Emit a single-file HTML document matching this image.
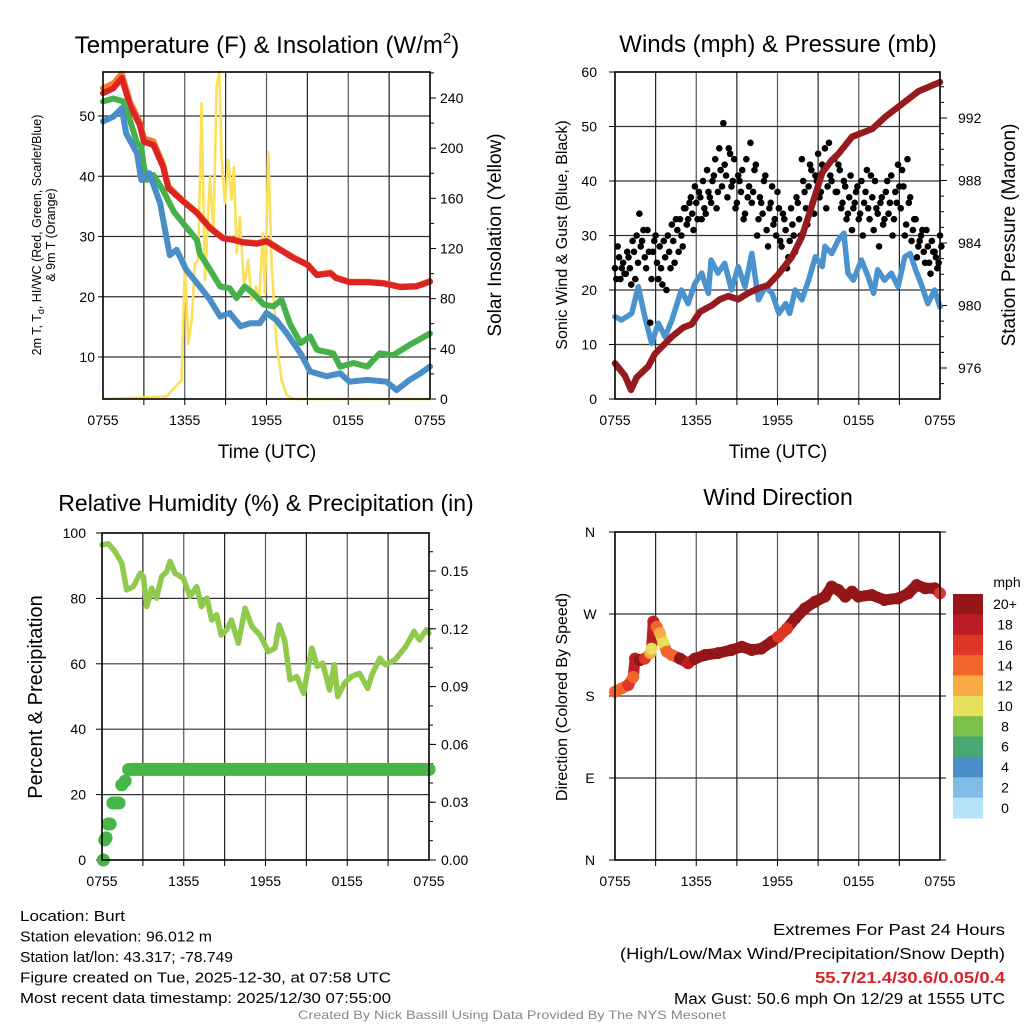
<!DOCTYPE html>
<html><head><meta charset="utf-8"><style>
body{margin:0;background:#fff}
svg{display:block;font-family:"Liberation Sans",sans-serif}
</style></head><body>
<svg id="c" width="1024" height="1024" viewBox="0 0 1024 1024" xmlns="http://www.w3.org/2000/svg"></svg>
<script>
// ---------- DATA ----------
const tempH=[0,0.76,1.37,2.0,2.7,3.0,3.7,4.4,4.8,5.9,6.9,7.85,8.8,9.6,10.3,11.3,12.0,13.0,14.0,15.0,15.7,16.7,17.1,18.1,19.4,20.6,21.8,23.0,24];
const tempV=[53.8,54.6,56.3,51.6,48.5,45.7,45.2,41.6,38.0,35.8,33.9,31.4,29.7,29.4,29.0,28.8,29.2,27.8,26.4,25.3,23.6,23.9,23.1,22.4,22.4,22.2,21.6,21.7,22.5];
const t9V=[54.6,55.4,57.0,52.2,49.0,46.3,45.8,42.0,38.3,35.9,34.0,31.5,29.8,29.5,29.1,28.9,29.3,27.9,26.5,25.4,23.7,24.0,23.2,22.5,22.5,22.3,21.7,21.8,22.6];
const dewH=[0,0.76,1.5,2.0,2.5,2.8,3.0,3.2,3.7,4.4,5.2,6.1,6.9,7.1,7.85,8.6,9.3,9.8,10.4,11.0,11.8,12.5,13.1,13.7,14.5,15.2,15.7,16.9,17.4,18.4,19.4,20.3,21.3,22.5,24];
const dewV=[52.4,52.9,52.4,49.1,45.5,44.9,41.6,39.4,40.2,37.7,34.1,31.6,29.4,27.2,24.5,21.7,21.4,19.8,21.7,20.6,18.7,18.4,19.5,15.6,12.3,13.4,11.2,10.6,8.4,9.0,8.4,10.6,10.3,12.0,13.9];
const wcH=[0,0.76,1.37,1.7,2.5,2.8,3.4,4.2,4.55,4.9,5.4,6.1,7.1,7.85,8.6,9.3,10.1,10.8,11.5,12.0,12.7,13.5,14.5,15.2,16.4,17.4,18.1,19.4,20.8,21.55,22.5,23.3,24];
const wcV=[49.1,49.9,51.3,47.1,43.8,39.4,40.5,35.5,31.1,26.9,27.8,24.5,21.7,19.5,16.7,17.3,15.1,15.6,15.6,17.3,16.2,13.9,10.6,7.6,6.8,7.3,5.9,6.2,5.9,4.5,6.2,7.3,8.4];
const solH=[0,4.67,5.16,5.77,6.02,6.26,6.51,6.75,6.99,7.24,7.48,7.85,8.1,8.34,8.54,8.71,8.95,9.2,9.44,9.61,9.81,10.05,10.35,10.66,10.91,11.23,11.47,11.72,11.89,12.13,12.38,12.74,13.11,13.48,13.97,24];
const solV=[0,2,8,15,111,44,63,108,111,236,95,177,132,249,261,191,156,191,159,185,116,145,90,111,79,90,79,132,84,197,106,44,15,3,0,0];
const presH=[0,0.74,1.18,1.6,2.46,2.95,4.19,5.05,5.66,6.28,7.14,7.76,8.37,9.1,9.85,10.6,11.3,12.06,13.05,13.8,14.5,15.3,16.0,16.5,17.5,19.0,20.0,21.2,22.4,24];
const presV=[976.3,975.5,974.6,975.4,976.1,976.9,978.0,978.6,978.8,979.6,980.0,980.4,980.6,980.4,980.8,981.1,981.3,982.0,983.1,984.4,986.3,988.5,989.3,989.7,990.8,991.3,992.1,992.9,993.7,994.3];
const windH=[0,0.49,1.23,1.72,2.2,2.71,3.2,3.7,4.2,4.9,5.4,5.9,6.4,6.9,7.1,7.6,8.1,8.6,9.1,9.6,10.1,10.6,11.1,11.6,12.1,12.6,12.9,13.3,13.8,14.3,14.8,15.3,15.5,16.0,16.5,16.9,17.2,17.6,18.2,18.7,19.1,19.4,19.9,20.4,20.9,21.4,21.8,22.2,22.6,23.1,23.6,24];
const windV=[15.1,14.5,15.7,20.6,15.1,10.2,13.9,11.4,14.5,20.0,17.5,21.2,23.1,19.4,25.5,23.1,24.9,20.0,24.3,20.6,26.7,18.2,20.6,19.4,15.7,17.5,15.7,20.0,18.2,21.8,26.1,24.3,28.0,26.7,29.2,30.4,23.1,21.8,25.5,22.4,19.4,23.7,21.8,23.1,20.6,26.1,26.7,23.7,21.2,17.5,20.0,16.9];
const gustV=[24,28,22,25,23,26,21,27,30,34,29,26,31,14,27,30,22,24,29,20,27,32,25,31,33,28,35,33,37,31,36,38,33,35,42,37,40,44,38,42,50.6,41,46,39,44,36,40,42,34,37,47,38,43,33,36,40,31,35,39,33,38,29,34,31,26,35,30,37,33,44,38,32,43,36,41,45,38,42,35,47,40,44,38,42,36,39,34,41,35,38,33,40,36,42,33,37,40,34,36,32,38,34,41,33,36,39,42,30,44,37,31,33,28,30,27,31,25,29,27,24,30];
const gustV2=[22,26,24,23,27,24,29,22,25,28,31,24,27,22,29,25,28,21,26,30,24,29,33,27,30,35,32,36,34,39,33,37,40,34,38,36,41,35,46,39,43,37,45,40,35,41,38,33,44,39,36,42,30,37,34,41,28,36,32,30,35,28,33,24,29,32,27,36,30,40,35,39,42,34,40,37,43,46,39,41,44,38,43,35,40,33,37,31,36,39,34,30,38,35,41,31,35,28,37,33,40,36,30,38,43,35,39,32,36,29,33,26,29,31,25,28,23,27,26,25,28];
const rhH=[0,0.47,0.96,1.45,1.81,2.3,2.8,3.04,3.28,3.65,4.0,4.38,4.75,5.0,5.36,5.97,6.46,6.95,7.3,7.7,8.05,8.42,8.74,9.15,9.5,10.0,10.5,11.0,11.6,12.2,12.7,13.0,13.4,13.8,14.3,14.8,15.4,15.8,16.2,16.7,17.05,17.3,17.8,18.3,18.9,19.5,19.8,20.4,20.8,21.5,22.3,22.9,23.3,23.8,24];
const rhV=[96.4,96.7,94.3,90.8,82.6,83.6,87.7,86.7,77.5,83.1,80.1,86.7,88.2,91.3,87.7,86.2,80.6,83.6,77.5,80.1,73.4,75.0,68.8,70.4,73.4,66.3,77.0,71.4,68.8,63.7,64.8,71.9,67.3,55.1,56.1,51.0,64.8,59.2,60.2,52.0,59.7,50.0,54.1,56.1,57.1,52.5,56.6,61.7,59.7,61.2,65.3,69.9,67.3,70.4,69.4];
const prH=[0.1,0.2,0.3,0.45,0.6,0.8,1.0,1.25,1.45,1.7,1.95,2.2,24];
const prV=[0.0,0.0104,0.0115,0.0187,0.0187,0.0296,0.0296,0.0296,0.039,0.041,0.047,0.047,0.047];
const dirH=[0,0.49,0.98,1.35,1.48,1.85,2.2,2.6,2.7,2.83,3.08,3.32,3.57,3.82,4.2,4.8,5.4,5.9,6.65,7.6,8.6,9.36,10.1,10.8,11.57,12.06,12.7,13.3,14.03,14.77,15.5,16.0,16.5,17.0,17.5,17.97,18.96,19.9,20.9,21.66,22.28,22.9,23.6,24];
const dirV=[184.8,188.4,192,201,221,219.5,221,227,232,261.6,256,249,238,228.7,225,221,216,221,225,227,230.5,234,230.5,232,239.6,245,254,265,276.2,283.5,289,300,296.3,289,294.5,289,290.9,285.4,287.2,292.7,301.8,298.2,298.2,292.7];
const dirSpd=[14,15,16,14,18,20,16,12,10,18,14,12,10,14,15,20,18,20,20,20,20,20,20,20,20,17,16,20,20,20,20,20,20,20,20,20,20,20,20,20,20,20,20,17];
const xTickLabels=["0755","1355","1955","0155","0755"];
const cbLabels=["20+","18","16","14","12","10","8","6","4","2","0"];
const cbColors=["#941618","#bd1d24","#df3627","#f2652b","#f8aa44","#e7e05b","#7ac14b","#47a872","#4a8fc8","#80bce6","#b7e3f8"];

// ---------- helpers ----------
const S=document.getElementById('c');const NS="http://www.w3.org/2000/svg";
function el(t,a,p){const e=document.createElementNS(NS,t);for(const k in a)e.setAttribute(k,a[k]);(p||S).appendChild(e);return e;}
function txt(s,a,p){const e=el('text',a,p);e.textContent=s;return e;}
function lin(a,b,c,d){return v=>c+(v-a)*(d-c)/(b-a);}
function poly(H,V,xs,ys,col,w,name){const g=el('polyline',{points:H.map((h,i)=>xs(h).toFixed(1)+','+ys(V[i]).toFixed(1)).join(' '),fill:'none',stroke:col,'stroke-width':w,'stroke-linejoin':'round','stroke-linecap':'round'});return g;}
function frame(x0,x1,y0,y1,name,hgrid){
  const g=el('g',{});
  for(let i=1;i<8;i++){const x=x0+i*(x1-x0)/8;el('line',{x1:x,x2:x,y1:y0,y2:y1,stroke:i%2?'#222':'#555','stroke-width':1.2},g);el('line',{x1:x,x2:x,y1:y1,y2:y1+6,stroke:'#000','stroke-width':1},g);}
  hgrid.forEach(y=>el('line',{x1:x0,x2:x1,y1:y,y2:y,stroke:'#333','stroke-width':1.2},g));
  xTickLabels.forEach((l,i)=>{const x=x0+i*(x1-x0)/4;const t=txt(l,{x:x,y:y1+26,'font-size':14,'text-anchor':'middle'},g);});
  return g;
}
function border(x0,x1,y0,y1){const r=el('rect',{x:x0,y:y0,width:x1-x0,height:y1-y0,fill:'none',stroke:'#000','stroke-width':1.6});}
function rot(s,x,y,fs,name){const t=txt(s,{x:0,y:0,'font-size':fs,'text-anchor':'middle',transform:`translate(${x},${y}) rotate(-90)`});return t;}

// ---------- Panel 1 ----------
{const x0=103,x1=430,y0=72,y1=399;const xs=lin(0,24,x0,x1);const ys=lin(50,10,116,357);const yr=lin(0,240,399,98);
 frame(x0,x1,y0,y1,'temp-panel-grid',[10,20,30,40,50].map(ys));
 [10,20,30,40,50].forEach(v=>{const t=txt(v,{x:x0-8,y:ys(v)+5,'font-size':14,'text-anchor':'end'});el('line',{x1:x0-5,x2:x0,y1:ys(v),y2:ys(v),stroke:'#000'});});
 [0,40,80,120,160,200,240].forEach(v=>{const t=txt(v,{x:x1+10,y:yr(v)+5,'font-size':14});el('line',{x1:x1,x2:x1+6,y1:yr(v),y2:yr(v),stroke:'#000'});});
 for(let v=20;v<=260;v+=40)el('line',{x1:x1,x2:x1+4,y1:yr(v),y2:yr(v),stroke:'#000'});
 poly(solH,solV,xs,yr,'#fbe05a',2.6,'solar-insolation-line');
 poly(tempH,t9V,xs,ys,'#f47d2a',6,'temp-9m-line');
 poly(tempH,tempV,xs,ys,'#dc2522',6,'temp-2m-line');
 poly(dewH,dewV,xs,ys,'#46b04a',6,'dewpoint-line');
 poly(wcH,wcV,xs,ys,'#4a8ec8',6,'windchill-line');
 border(x0,x1,y0,y1);
 const t=txt('Temperature (F) & Insolation (W/m',{x:267,y:53,'font-size':24,'text-anchor':'middle'});el('tspan',{'font-size':15,dy:-10},t).textContent='2';el('tspan',{dy:10},t).textContent=')';
 const a=txt('',{x:0,y:0,'font-size':12.5,'text-anchor':'middle',transform:'translate(41,235) rotate(-90)'});
 el('tspan',{},a).textContent='2m T, T';el('tspan',{'font-size':9,dy:3},a).textContent='d';el('tspan',{dy:-3},a).textContent=', HI/WC (Red, Green, Scarlet/Blue)';
 rot('& 9m T (Orange)',55,235,12.5,'temp-y-axis-title-2');
 rot('Solar Insolation (Yellow)',501,235,19,'solar-y-axis-title');
 const xt=txt('Time (UTC)',{x:267,y:458,'font-size':19,'text-anchor':'middle'});
}
// ---------- Panel 2 ----------
{const x0=615,x1=940,y0=72,y1=399;const xs=lin(0,24,x0,x1);const ys=lin(0,60,399,72);const yp=lin(976,992,368,118);
 frame(x0,x1,y0,y1,'wind-panel-grid',[10,20,30,40,50].map(ys));
 [0,10,20,30,40,50,60].forEach(v=>{const t=txt(v,{x:x0-18,y:ys(v)+5,'font-size':14,'text-anchor':'end'});el('line',{x1:x0-6,x2:x0,y1:ys(v),y2:ys(v),stroke:'#000'});});
 [976,980,984,988,992].forEach(v=>{const t=txt(v,{x:x1+18,y:yp(v)+5,'font-size':14});el('line',{x1:x1,x2:x1+7,y1:yp(v),y2:yp(v),stroke:'#000'});});
 for(let v=975;v<=994;v++)el('line',{x1:x1,x2:x1+4,y1:yp(v),y2:yp(v),stroke:'#000'});
 poly(windH,windV,xs,ys,'#4a93cf',5.5,'sonic-wind-line');
 const gg=el('g',{});
 gustV.forEach((v,i)=>{const c=el('circle',{cx:xs(i*0.2),cy:ys(v),r:3.3,fill:'#000'},gg);});
 gustV2.forEach((v,i)=>{const c=el('circle',{cx:xs(i*0.2+0.1),cy:ys(v),r:3.3,fill:'#000'},gg);});
 poly(presH,presV,xs,yp,'#951b1f',6.5,'pressure-line');
 border(x0,x1,y0,y1);
 const t=txt('Winds (mph) & Pressure (mb)',{x:778,y:52,'font-size':24,'text-anchor':'middle'});
 rot('Sonic Wind & Gust (Blue, Black)',567,235,16,'wind-y-axis-title');
 rot('Station Pressure (Maroon)',1015,235,19,'pressure-y-axis-title');
 const xt=txt('Time (UTC)',{x:778,y:458,'font-size':19,'text-anchor':'middle'});
}
// ---------- Panel 3 ----------
{const x0=102,x1=429,y0=533,y1=860;const xs=lin(0,24,x0,x1);const ys=lin(0,100,860,533);const yr=lin(0,0.15,860,571);
 frame(x0,x1,y0,y1,'rh-panel-grid',[20,40,60,80].map(ys));
 [0,20,40,60,80,100].forEach(v=>{const t=txt(v,{x:x0-16,y:ys(v)+5,'font-size':14,'text-anchor':'end'});el('line',{x1:x0-6,x2:x0,y1:ys(v),y2:ys(v),stroke:'#000'});});
 [0,0.03,0.06,0.09,0.12,0.15].forEach(v=>{const t=txt(v.toFixed(2),{x:x1+12,y:yr(v)+5,'font-size':14});el('line',{x1:x1,x2:x1+7,y1:yr(v),y2:yr(v),stroke:'#000'});});
 for(let v=0.01;v<0.17;v+=0.01)el('line',{x1:x1,x2:x1+4,y1:yr(v),y2:yr(v),stroke:'#000'});
 poly(rhH,rhV,xs,ys,'#8fca4c',5.5,'relative-humidity-line');
 const pg=el('g',{});
 poly(prH.slice(-2),prV.slice(-2),xs,yr,'#46b649',13,'precip-accum-bar');
 prH.forEach((h,i)=>{const c=el('circle',{cx:xs(h),cy:yr(prV[i]),r:6.5,fill:'#46b649'},pg);});
 border(x0,x1,y0,y1);
 const t=txt('Relative Humidity (%) & Precipitation (in)',{x:266,y:511,'font-size':23,'text-anchor':'middle'});
 rot('Percent & Precipitation',42,697,20,'rh-y-axis-title');
}
// ---------- Panel 4 ----------
{const x0=615,x1=940,y0=532,y1=860;const xs=lin(0,24,x0,x1);const ys=lin(0,360,860,532);
 frame(x0,x1,y0,y1,'direction-panel-grid',[90,180,270].map(ys));
 [['N',0],['E',90],['S',180],['W',270],['N',360]].forEach(([l,v])=>{const t=txt(l,{x:590,y:ys(v)+5,'font-size':14,'text-anchor':'middle'});el('line',{x1:x0-6,x2:x0,y1:ys(v),y2:ys(v),stroke:'#000'});el('line',{x1:x1,x2:x1+6,y1:ys(v),y2:ys(v),stroke:'#000'});});
 const col=s=>cbColors[Math.max(0,Math.min(10,10-Math.floor(s/2)))];
 const dg=el('g',{});
 for(let i=1;i<dirH.length;i++){el('line',{x1:xs(dirH[i-1]),y1:ys(dirV[i-1]),x2:xs(dirH[i]),y2:ys(dirV[i]),stroke:col(dirSpd[i]),'stroke-width':11,'stroke-linecap':'round'},dg);}
 dirH.forEach((h,i)=>{const c=el('circle',{cx:xs(h),cy:ys(dirV[i]),r:6,fill:col(dirSpd[i])},dg);});
 border(x0,x1,y0,y1);
 const t=txt('Wind Direction',{x:778,y:505,'font-size':23,'text-anchor':'middle'});
 rot('Direction (Colored By Speed)',567,697,16,'direction-y-axis-title');
 const cb=el('g',{});
 const bh=(818-594)/11;
 cbColors.forEach((c,i)=>{const r=el('rect',{x:953,y:594+i*bh,width:30,height:bh+0.5,fill:c},cb);
  const l=txt(cbLabels[i],{x:1005,y:594+i*bh+bh/2+5,'font-size':14,'text-anchor':'middle'},cb);});
 const m=txt('mph',{x:1007,y:587,'font-size':14,'text-anchor':'middle'},cb);
}
// ---------- footer ----------
{const L=["Location: Burt","Station elevation: 96.012 m","Station lat/lon: 43.317; -78.749","Figure created on Tue, 2025-12-30, at 07:58 UTC","Most recent data timestamp: 2025/12/30 07:55:00"];
 const W=[105,192,213,371,371];
 L.forEach((s,i)=>{const t=txt(s,{x:20,y:921+i*20.5,'font-size':15,textLength:W[i],lengthAdjust:'spacingAndGlyphs'});});
 const R=[["Extremes For Past 24 Hours",935,232,'#000','normal'],["(High/Low/Max Wind/Precipitation/Snow Depth)",959,385,'#000','normal'],["55.7/21.4/30.6/0.05/0.4",983,190,'#d6242a','bold'],["Max Gust: 50.6 mph On 12/29 at 1555 UTC",1004,331,'#000','normal']];
 R.forEach(([s,y,w,c,b])=>{const t=txt(s,{x:1005,y:y,'font-size':15.5,'text-anchor':'end',fill:c,'font-weight':b,textLength:w,lengthAdjust:'spacingAndGlyphs'});});
 const cr=txt('Created By Nick Bassill Using Data Provided By The NYS Mesonet',{x:512,y:1019,'font-size':12,'text-anchor':'middle',fill:'#888',textLength:428,lengthAdjust:'spacingAndGlyphs'});
}
</script>
</body></html>
